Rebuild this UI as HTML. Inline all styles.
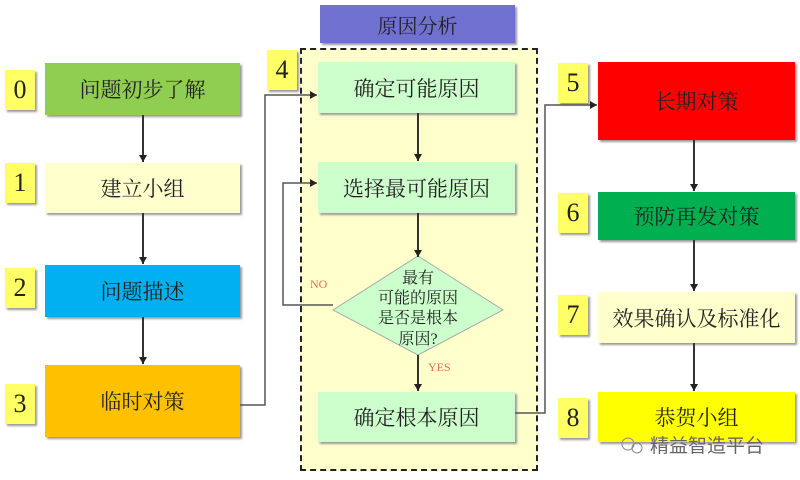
<!DOCTYPE html>
<html><head><meta charset="utf-8"><style>
body{margin:0;width:800px;height:480px;background:#fff;position:relative;overflow:hidden;font-family:"Liberation Serif","Noto Serif CJK SC",serif}
.b{position:absolute;display:flex;align-items:center;justify-content:center;font-size:21px;color:#222;box-shadow:2px 2px 2px #999}
.n{position:absolute;width:30px;height:40px;background:#ffff66;display:flex;align-items:center;justify-content:center;font-size:26px;color:#222;box-shadow:2px 2px 2px #999}
svg{position:absolute;left:0;top:0}
</style></head><body>
<div style="position:absolute;left:300px;top:48px;width:234px;height:419px;background:#ffffcc;border:2px dashed #222"></div>
<div class="b" style="left:320px;top:5px;width:195px;height:38px;background:#7070d0;font-size:20px">原因分析</div>
<div class="n" style="left:5px;top:70px">0</div>
<div class="n" style="left:5px;top:163px">1</div>
<div class="n" style="left:5px;top:268px">2</div>
<div class="n" style="left:5px;top:384px">3</div>
<div class="n" style="left:267px;top:50px">4</div>
<div class="n" style="left:558px;top:63px">5</div>
<div class="n" style="left:558px;top:193px">6</div>
<div class="n" style="left:558px;top:295px">7</div>
<div class="n" style="left:558px;top:398px">8</div>
<div class="b" style="left:45px;top:63px;width:195px;height:52px;background:#8fce50">问题初步了解</div>
<div class="b" style="left:45px;top:163px;width:195px;height:50px;background:#ffffcc">建立小组</div>
<div class="b" style="left:45px;top:265px;width:195px;height:52px;background:#00b0f0">问题描述</div>
<div class="b" style="left:45px;top:365px;width:195px;height:72px;background:#ffc000">临时对策</div>
<div class="b" style="left:318px;top:62px;width:197px;height:51px;background:#ccffcc">确定可能原因</div>
<div class="b" style="left:318px;top:162px;width:197px;height:51px;background:#ccffcc">选择最可能原因</div>
<div class="b" style="left:318px;top:392px;width:197px;height:50px;background:#ccffcc">确定根本原因</div>
<div class="b" style="left:598px;top:62px;width:197px;height:78px;background:#ff0000">长期对策</div>
<div class="b" style="left:598px;top:192px;width:197px;height:48px;background:#00b050">预防再发对策</div>
<div class="b" style="left:598px;top:292px;width:197px;height:51px;background:#ffffcc">效果确认及标准化</div>
<div class="b" style="left:598px;top:392px;width:197px;height:50px;background:#ffff00">恭贺小组</div>
<svg width="800" height="480">
<defs><marker id="a" markerUnits="userSpaceOnUse" markerWidth="8" markerHeight="8" refX="7" refY="4" orient="auto"><path d="M0,0L7,4L0,8z" fill="#222"/></marker></defs>
<polygon points="418,256 503,310 418,355 333,310" fill="#ccffcc" stroke="#aaa"/>
<text x="418" y="283" font-size="16" text-anchor="middle" fill="#222">最有</text>
<text x="418" y="303" font-size="16" text-anchor="middle" fill="#222">可能的原因</text>
<text x="418" y="323" font-size="16" text-anchor="middle" fill="#222">是否是根本</text>
<text x="418" y="344" font-size="16" text-anchor="middle" fill="#222">原因?</text>
<text x="310" y="288" font-size="12" fill="#e07050">NO</text>
<text x="428" y="371" font-size="12" fill="#e07050">YES</text>
<g stroke="#333" stroke-width="2" fill="none" marker-end="url(#a)">
<line x1="143" y1="115" x2="143" y2="162"/>
<line x1="143" y1="213" x2="143" y2="264"/>
<line x1="143" y1="317" x2="143" y2="364"/>
<line x1="418" y1="113" x2="418" y2="161"/>
<line x1="418" y1="213" x2="418" y2="257"/>
<line x1="418" y1="355" x2="418" y2="391"/>
<line x1="694" y1="140" x2="694" y2="191"/>
<line x1="694" y1="240" x2="694" y2="291"/>
<line x1="694" y1="343" x2="694" y2="391"/>
</g>
<g stroke="#555" stroke-width="1.5" fill="none" marker-end="url(#a)">
<polyline points="240,405 265,405 265,95 317,95"/>
<polyline points="333,305 283,305 283,183 317,183"/>
<polyline points="515,413 545,413 545,105 597,105"/>
</g>
<text x="650" y="452" font-size="19" fill="#666" font-family="Liberation Sans,Noto Sans CJK SC,sans-serif">精益智造平台</text>
<circle cx="628" cy="444" r="6" fill="none" stroke="#888"/><circle cx="637" cy="448" r="5" fill="none" stroke="#888"/>
</svg>
</body></html>
